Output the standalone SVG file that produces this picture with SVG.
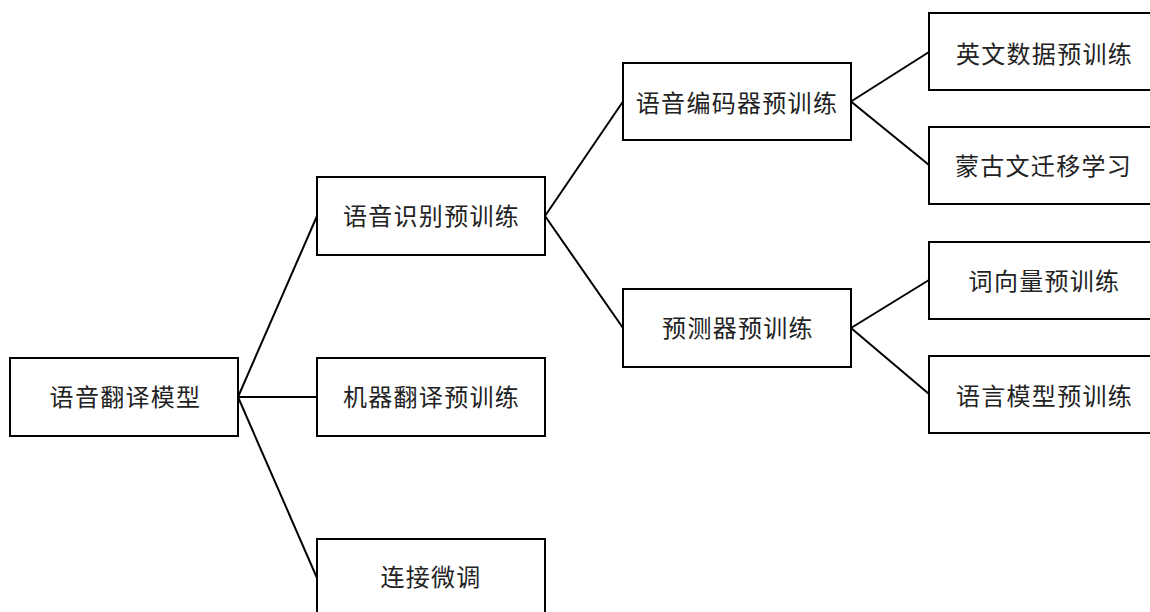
<svg xmlns="http://www.w3.org/2000/svg" width="1150" height="612" viewBox="0 0 1150 612">
<style>
.box{fill:#fff;stroke:#000;stroke-width:2}
.lbl{font-family:"Noto Sans CJK SC","Liberation Sans",sans-serif;font-size:24px;letter-spacing:1.3px;fill:#222;text-anchor:middle;dominant-baseline:central}
.edge{stroke:#000;stroke-width:2;fill:none}
</style>
<rect width="1150" height="612" fill="#fff"/>
<g id="connectors">
<line class="edge" x1="238" y1="397" x2="317" y2="216"/>
<line class="edge" x1="238" y1="397" x2="317" y2="397"/>
<line class="edge" x1="238" y1="397" x2="317" y2="578"/>
<line class="edge" x1="545" y1="216" x2="623" y2="101.5"/>
<line class="edge" x1="545" y1="216" x2="623" y2="328"/>
<line class="edge" x1="851" y1="101.5" x2="929" y2="52"/>
<line class="edge" x1="851" y1="101.5" x2="929" y2="165"/>
<line class="edge" x1="851" y1="328" x2="929" y2="280"/>
<line class="edge" x1="851" y1="328" x2="929" y2="394"/>
</g>
<g id="n-root"><rect class="box" x="10" y="358" width="228" height="78"/><text class="lbl" x="125.5" y="395">语音翻译模型</text></g>
<g id="n-asr"><rect class="box" x="317" y="177" width="228" height="78"/><text class="lbl" x="431.5" y="214">语音识别预训练</text></g>
<g id="n-mt"><rect class="box" x="317" y="358" width="228" height="78"/><text class="lbl" x="431.5" y="395">机器翻译预训练</text></g>
<g id="n-ft"><rect class="box" x="317" y="539" width="228" height="78"/><text class="lbl" x="431" y="575">连接微调</text></g>
<g id="n-enc"><rect class="box" x="623" y="63" width="228" height="77"/><text class="lbl" x="737" y="101">语音编码器预训练</text></g>
<g id="n-pred"><rect class="box" x="623" y="289" width="228" height="78"/><text class="lbl" x="738" y="326.5">预测器预训练</text></g>
<g id="n-en"><rect class="box" x="929" y="13" width="228" height="77"/><text class="lbl" x="1044.5" y="52">英文数据预训练</text></g>
<g id="n-mn"><rect class="box" x="929" y="127" width="228" height="77"/><text class="lbl" x="1043.5" y="164">蒙古文迁移学习</text></g>
<g id="n-wv"><rect class="box" x="929" y="242" width="228" height="77"/><text class="lbl" x="1044.5" y="279">词向量预训练</text></g>
<g id="n-lm"><rect class="box" x="929" y="356" width="228" height="77"/><text class="lbl" x="1044.5" y="394">语言模型预训练</text></g>
</svg>
